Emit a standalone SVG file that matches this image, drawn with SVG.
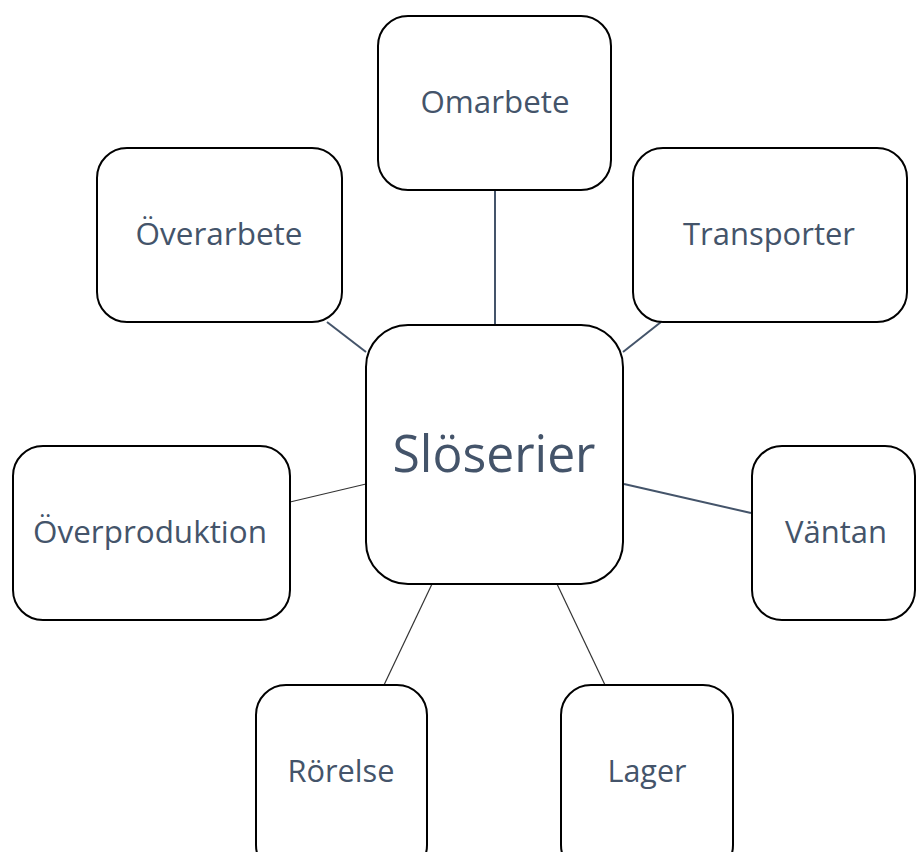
<svg xmlns="http://www.w3.org/2000/svg" width="917" height="852" viewBox="0 0 917 852">
<style>
.box{fill:#fff;stroke:#000;stroke-width:2}
.lbl{font-family:"Open Sans","Noto Sans","Liberation Sans",sans-serif;fill:#44546A;text-anchor:middle;font-size:31px}
.big{font-size:52px}
.c1{stroke:#44546A;stroke-width:2;fill:none}
.c2{stroke:#333;stroke-width:1.2;fill:none}
</style>
<rect width="917" height="852" fill="#fff"/>
<g id="connectors">
<line class="c1" x1="495" y1="190" x2="495" y2="325"/>
<line class="c1" x1="327" y1="322" x2="366" y2="352"/>
<line class="c1" x1="661" y1="322" x2="623" y2="352"/>
<line class="c2" x1="290" y1="502" x2="366" y2="484"/>
<line class="c1" x1="624" y1="484" x2="751" y2="513"/>
<line class="c2" x1="432" y1="584" x2="384" y2="685"/>
<line class="c2" x1="557" y1="584" x2="605" y2="685"/>
</g>
<g id="sloserier">
<rect class="box" x="366" y="325" width="257" height="259" rx="42"/>
<text class="lbl big" x="494" y="472" textLength="203" lengthAdjust="spacingAndGlyphs">Slöserier</text>
</g>
<g id="omarbete">
<rect class="box" x="378" y="16" width="233" height="174" rx="30"/>
<text class="lbl" x="495" y="113" textLength="149" lengthAdjust="spacingAndGlyphs">Omarbete</text>
</g>
<g id="overarbete">
<rect class="box" x="97" y="148" width="245" height="174" rx="30"/>
<text class="lbl" x="219" y="245" textLength="167" lengthAdjust="spacingAndGlyphs">Överarbete</text>
</g>
<g id="transporter">
<rect class="box" x="633" y="148" width="274" height="174" rx="30"/>
<text class="lbl" x="769" y="245" textLength="172" lengthAdjust="spacingAndGlyphs">Transporter</text>
</g>
<g id="overproduktion">
<rect class="box" x="13" y="446" width="277" height="174" rx="30"/>
<text class="lbl" x="150" y="543" textLength="234" lengthAdjust="spacingAndGlyphs">Överproduktion</text>
</g>
<g id="vantan">
<rect class="box" x="752" y="446" width="163" height="174" rx="30"/>
<text class="lbl" x="836" y="543" textLength="102" lengthAdjust="spacingAndGlyphs">Väntan</text>
</g>
<g id="rorelse">
<rect class="box" x="256" y="685" width="171" height="190" rx="30"/>
<text class="lbl" x="341" y="782" textLength="107" lengthAdjust="spacingAndGlyphs">Rörelse</text>
</g>
<g id="lager">
<rect class="box" x="561" y="685" width="172" height="190" rx="30"/>
<text class="lbl" x="647" y="782" textLength="79" lengthAdjust="spacingAndGlyphs">Lager</text>
</g>
</svg>
